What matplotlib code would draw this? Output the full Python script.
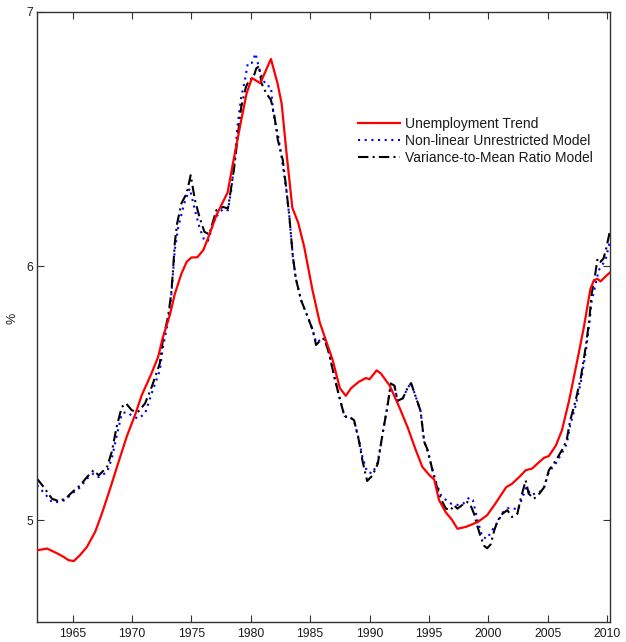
import matplotlib
matplotlib.use("Agg")
import matplotlib.pyplot as plt

plt.rcParams['font.family'] = ['Liberation Sans', 'DejaVu Sans']

# ---- data ----
trend_years = [1962.0, 1962.85, 1963.7, 1964.25, 1964.66, 1965.1, 1965.6, 1966.2, 1966.9, 1967.46,
               1968.16, 1968.87, 1969.56, 1970.3, 1970.8, 1971.64, 1972.2, 1972.6, 1973.2, 1973.6,
               1974.16, 1974.6, 1975.0, 1975.5, 1976.0, 1976.4, 1977.1, 1978.05, 1978.6, 1979.2,
               1979.65, 1980.1, 1980.8, 1981.7, 1982.25, 1982.6, 1983.0, 1983.5, 1984.0, 1984.5,
               1985.2, 1985.8, 1986.9, 1987.5, 1988.0, 1988.45, 1989.1, 1989.7, 1990.0, 1990.6,
               1990.95, 1991.7, 1992.5, 1993.2, 1993.9, 1994.45, 1995.0, 1995.45, 1995.85, 1996.4,
               1996.97, 1997.4, 1998.1, 1999.1, 1999.9, 2000.6, 2001.5, 2002.0, 2002.6, 2003.15,
               2003.7, 2004.3, 2004.7, 2005.1, 2005.7, 2006.2, 2006.8, 2007.5, 2008.05, 2008.6,
               2008.9, 2009.2, 2009.45, 2010.0, 2010.25]
trend_values = [4.882, 4.889, 4.870, 4.856, 4.843, 4.840, 4.862, 4.895, 4.955, 5.026,
                5.125, 5.230, 5.330, 5.420, 5.490, 5.578, 5.643, 5.720, 5.810, 5.890,
                5.970, 6.017, 6.034, 6.035, 6.063, 6.110, 6.200, 6.290, 6.430, 6.575,
                6.680, 6.740, 6.720, 6.815, 6.720, 6.640, 6.450, 6.230, 6.170, 6.076,
                5.905, 5.780, 5.630, 5.520, 5.490, 5.520, 5.545, 5.560, 5.555, 5.590,
                5.578, 5.530, 5.446, 5.367, 5.276, 5.210, 5.180, 5.160, 5.080, 5.033,
                5.000, 4.967, 4.974, 4.993, 5.020, 5.066, 5.130, 5.144, 5.170, 5.197,
                5.204, 5.230, 5.246, 5.253, 5.295, 5.354, 5.470, 5.630, 5.760, 5.910,
                5.945, 5.950, 5.940, 5.965, 5.975]

nl_years = [1962.0, 1962.56, 1963.26, 1963.8, 1964.4, 1964.94, 1965.64, 1966.2, 1966.76, 1967.2,
            1967.9, 1968.3, 1968.7, 1969.14, 1969.5, 1969.98, 1970.5, 1971.1, 1971.66, 1972.34,
            1972.6, 1973.03, 1973.3, 1973.6, 1973.9, 1974.4, 1974.86, 1975.3, 1975.7, 1976.1,
            1976.4, 1977.0, 1977.66, 1978.08, 1978.36, 1978.64, 1978.9, 1979.2, 1979.5, 1979.76,
            1980.1, 1980.4, 1980.8, 1981.3, 1981.7, 1981.9, 1982.28, 1982.56, 1983.0, 1983.26,
            1983.54, 1983.8, 1984.24, 1984.8, 1985.22, 1985.5, 1985.9, 1986.2, 1986.6, 1987.04,
            1987.46, 1987.9, 1988.3, 1988.7, 1989.1, 1989.4, 1989.8, 1990.26, 1990.7, 1991.1,
            1991.5, 1991.8, 1992.1, 1992.36, 1992.8, 1993.2, 1993.5, 1993.9, 1994.3, 1994.6,
            1994.9, 1995.3, 1995.6, 1996.0, 1996.3, 1996.85, 1997.5, 1997.9, 1998.4, 1998.7,
            1999.1, 1999.5, 1999.9, 2000.3, 2000.8, 2001.2, 2001.6, 2002.0, 2002.5, 2002.8,
            2003.2, 2003.6, 2004.3, 2004.7, 2005.1, 2005.7, 2006.2, 2006.6, 2006.9, 2007.35,
            2007.8, 2008.2, 2008.5, 2008.7, 2009.0, 2009.3, 2009.6, 2009.9, 2010.25]
nl_values = [5.138, 5.110, 5.072, 5.072, 5.080, 5.105, 5.130, 5.164, 5.184, 5.170,
             5.190, 5.243, 5.330, 5.420, 5.426, 5.413, 5.400, 5.420, 5.500, 5.590,
             5.680, 5.780, 5.880, 6.063, 6.155, 6.247, 6.306, 6.220, 6.150, 6.100,
             6.100, 6.190, 6.225, 6.220, 6.300, 6.420, 6.560, 6.667, 6.730, 6.800,
             6.800, 6.837, 6.760, 6.710, 6.706, 6.600, 6.520, 6.440, 6.300, 6.190,
             6.040, 5.950, 5.866, 5.800, 5.748, 5.700, 5.710, 5.715, 5.656, 5.564,
             5.485, 5.410, 5.410, 5.390, 5.320, 5.250, 5.190, 5.185, 5.230, 5.340,
             5.446, 5.538, 5.530, 5.470, 5.480, 5.520, 5.540, 5.485, 5.430, 5.310,
             5.270, 5.200, 5.150, 5.100, 5.085, 5.066, 5.060, 5.066, 5.090, 5.080,
             5.000, 4.934, 4.928, 4.960, 4.993, 5.030, 5.047, 5.050, 5.040, 5.080,
             5.130, 5.100, 5.110, 5.130, 5.190, 5.225, 5.265, 5.300, 5.375, 5.450,
             5.545, 5.660, 5.770, 5.860, 5.920, 5.984, 6.004, 6.030, 6.100]

vmr_years = [1962.0, 1962.56, 1963.26, 1963.8, 1964.4, 1964.94, 1965.64, 1966.2, 1966.76, 1967.2,
             1967.9, 1968.3, 1968.7, 1969.14, 1969.5, 1969.98, 1970.5, 1971.1, 1971.66, 1972.34,
             1972.6, 1973.03, 1973.3, 1973.45, 1973.6, 1973.8, 1974.16, 1974.6, 1974.94, 1975.3,
             1975.7, 1976.1, 1976.5, 1977.1, 1977.66, 1978.08, 1978.36, 1978.64, 1978.9, 1979.2,
             1979.6, 1979.9, 1980.2, 1980.46, 1980.7, 1980.9, 1981.3, 1981.7, 1982.0, 1982.28,
             1982.7, 1983.0, 1983.26, 1983.54, 1983.8, 1984.24, 1984.8, 1985.22, 1985.5, 1985.9,
             1986.2, 1986.6, 1987.04, 1987.46, 1987.9, 1988.3, 1988.7, 1989.1, 1989.4, 1989.8,
             1990.26, 1990.7, 1991.1, 1991.5, 1991.8, 1992.1, 1992.36, 1992.8, 1993.2, 1993.5,
             1993.9, 1994.3, 1994.6, 1994.9, 1995.3, 1995.6, 1996.0, 1996.43, 1996.85, 1997.1,
             1997.4, 1997.8, 1998.24, 1998.5, 1998.8, 1999.1, 1999.37, 1999.65, 1999.9, 2000.2,
             2000.5, 2000.8, 2001.2, 2001.6, 2002.0, 2002.45, 2002.7, 2003.15, 2003.4, 2003.85,
             2004.3, 2004.7, 2005.1, 2005.7, 2006.2, 2006.6, 2006.9, 2007.35, 2007.8, 2008.2,
             2008.5, 2008.7, 2008.97, 2009.2, 2009.45, 2009.7, 2009.9, 2010.25]
vmr_values = [5.164, 5.131, 5.085, 5.076, 5.085, 5.110, 5.138, 5.170, 5.197, 5.177,
              5.210, 5.270, 5.367, 5.446, 5.460, 5.433, 5.426, 5.460, 5.525, 5.617,
              5.710, 5.800, 5.890, 5.980, 6.090, 6.168, 6.247, 6.286, 6.358, 6.260,
              6.190, 6.135, 6.125, 6.220, 6.233, 6.227, 6.312, 6.400, 6.510, 6.627,
              6.706, 6.735, 6.739, 6.778, 6.787, 6.720, 6.680, 6.654, 6.588, 6.496,
              6.417, 6.300, 6.190, 6.040, 5.950, 5.866, 5.800, 5.748, 5.690, 5.710,
              5.715, 5.656, 5.564, 5.485, 5.407, 5.407, 5.394, 5.315, 5.236, 5.155,
              5.177, 5.223, 5.341, 5.446, 5.538, 5.530, 5.470, 5.480, 5.520, 5.540,
              5.485, 5.430, 5.310, 5.276, 5.197, 5.144, 5.085, 5.046, 5.040, 5.060,
              5.046, 5.060, 5.072, 5.060, 5.026, 4.974, 4.934, 4.900, 4.890, 4.905,
              4.960, 5.000, 5.026, 5.040, 5.013, 5.026, 5.080, 5.157, 5.105, 5.085,
              5.105, 5.130, 5.197, 5.236, 5.276, 5.315, 5.394, 5.470, 5.564, 5.680,
              5.787, 5.890, 5.958, 6.030, 6.017, 6.030, 6.063, 6.140]

series_labels = ["Unemployment Trend", "Non-linear Unrestricted Model", "Variance-to-Mean Ratio Model"]
x_ticks = [1965, 1970, 1975, 1980, 1985, 1990, 1995, 2000, 2005, 2010]
y_ticks = [5, 6, 7]

# ---- figure ----
fig = plt.figure(figsize=(6.26, 6.42), dpi=100)
ax = fig.add_axes([37/626, 1 - 622/642, (610-37)/626, (622-12)/642])

ax.plot(trend_years, trend_values, color='#ff0000', lw=1.6, label=series_labels[0], zorder=3)
ax.plot(nl_years, nl_values, color='#0000ff', lw=1.5, linestyle=(0, (1, 2.2)),
        label=series_labels[1], zorder=2)
ax.plot(vmr_years, vmr_values, color='black', lw=1.5, linestyle=(0, (5, 2, 1, 2)),
        label=series_labels[2], zorder=2)

ax.set_xlim(1962.0, 2010.25)
ax.set_ylim(4.6, 7.0)
ax.set_xticks(x_ticks)
ax.set_yticks(y_ticks)
ax.set_yticklabels([str(v) for v in y_ticks])
ax.tick_params(direction='in', length=4.7, width=0.8, top=True, right=True,
               labelsize=8.8, colors='#333333', labelcolor='#1a1a1a')
ax.tick_params(axis='x', pad=4)
ax.tick_params(axis='y', pad=3)
for s in ax.spines.values():
    s.set_linewidth(1.0)
    s.set_color('#333333')

fig.text(12/626, 1 - 318/642, '%', rotation=90, ha='center', va='center',
         fontsize=9, color='#1a1a1a')

leg = ax.legend(loc='upper left', bbox_to_anchor=(358/626, 1 - 117/642),
                bbox_transform=fig.transFigure, frameon=False, fontsize=10,
                handlelength=3.0, handletextpad=0.36, labelspacing=0.2, borderpad=0,
                borderaxespad=0)
for t in leg.get_texts():
    t.set_color('#1a1a1a')

fig.savefig('out.png', dpi=100)
